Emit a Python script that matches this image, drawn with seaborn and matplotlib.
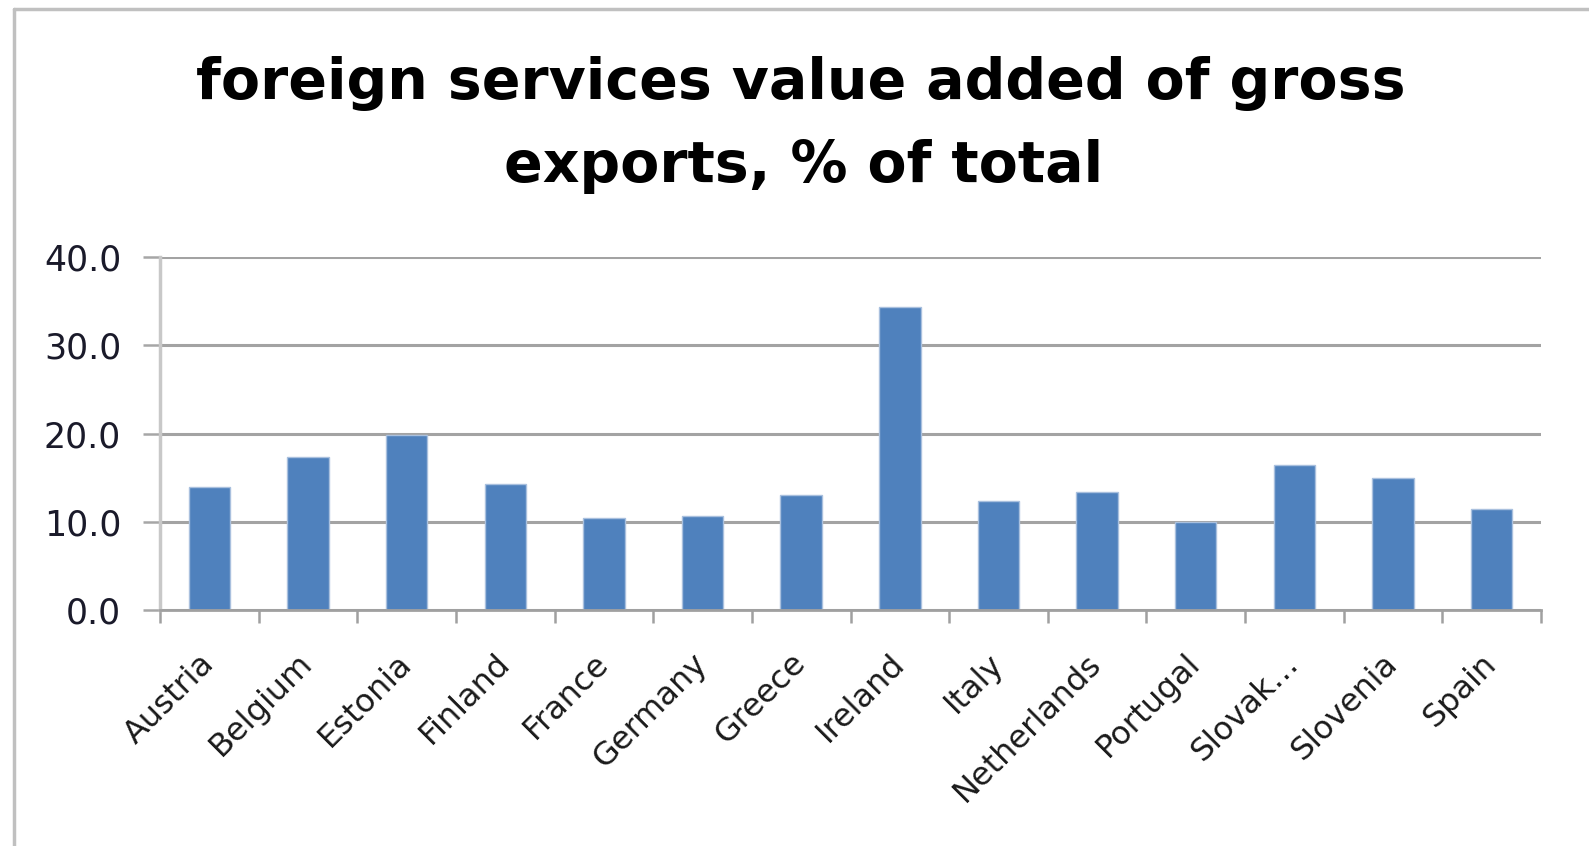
import matplotlib
matplotlib.use("Agg")
import matplotlib.pyplot as plt
from matplotlib.lines import Line2D
import numpy as np
import pandas as pd
import seaborn as sns

# ---- data ----
countries = ["Austria", "Belgium", "Estonia", "Finland", "France", "Germany", "Greece",
             "Ireland", "Italy", "Netherlands", "Portugal", "Slovak…", "Slovenia", "Spain"]
values = [14.0, 17.4, 19.8, 14.3, 10.4, 10.7, 13.0, 34.4, 12.4, 13.4, 10.0, 16.4, 15.0, 11.4]
yticks = [0, 10, 20, 30, 40]
ytick_labels = ["0.0", "10.0", "20.0", "30.0", "40.0"]
title_line1 = "foreign services value added of gross"
title_line2 = "exports, % of total"

sns.set_theme(style="white")
plt.rcParams["font.family"] = ["DejaVu Sans"]

W, H = 1589, 846
fig = plt.figure(figsize=(W / 100, H / 100), dpi=100)
fig.patch.set_facecolor("white")

left, right, top, bottom = 160, 1541, 257.3, 610
ax = fig.add_axes([left / W, 1 - bottom / H, (right - left) / W, (bottom - top) / H])

df = pd.DataFrame({"country": countries, "value": values})
sns.barplot(data=df, x="country", y="value", color="#4F81BD", saturation=1,
            width=0.42, edgecolor="#a9c0de", linewidth=1.0, ax=ax)

ax.set_xlim(-0.5, len(countries) - 0.5)
ax.set_ylim(0, 40)
ax.set_yticks(yticks)
ax.set_yticklabels(ytick_labels)
ax.set_xlabel("")
ax.set_ylabel("")

ax.yaxis.grid(True, color="#a3a3a3", linewidth=2.2)
ax.xaxis.grid(False)
ax.set_axisbelow(True)

for s in ["top", "right"]:
    ax.spines[s].set_visible(False)
ax.spines["left"].set_color("#c8c8c8")
ax.spines["left"].set_linewidth(2.5)
ax.spines["bottom"].set_color("#a0a0a0")
ax.spines["bottom"].set_linewidth(2.0)

ax.tick_params(axis="y", which="major", left=True, length=12, width=1.8,
               color="#a6a6a6", pad=16, labelsize=25, labelcolor="#1a1a2a", direction="out")

ax.set_xticks(np.arange(-0.5, len(countries), 1.0), minor=True)
ax.tick_params(axis="x", which="minor", bottom=True, length=9, width=1.8,
               color="#a0a0a0", direction="out")
ax.tick_params(axis="x", which="major", bottom=True, length=0, pad=35,
               labelsize=23, labelcolor="#1a1a1a")
for lbl in ax.get_xticklabels():
    lbl.set_rotation(45)
    lbl.set_ha("right")
    lbl.set_va("center")
    lbl.set_rotation_mode("anchor")

# title
fig.text(801 / W, 1 - 99 / H, title_line1, ha="center", va="baseline",
         fontsize=41, fontweight="bold", color="black")
fig.text(804 / W, 1 - 182 / H, title_line2, ha="center", va="baseline",
         fontsize=41, fontweight="bold", color="black")

# chart-area border (left and top visible)
fig.add_artist(Line2D([14 / W, 14 / W], [0, 1 - 9 / H], transform=fig.transFigure,
                      color="#c0c0c0", linewidth=2.5))
fig.add_artist(Line2D([14 / W, 1], [1 - 9 / H, 1 - 9 / H], transform=fig.transFigure,
                      color="#c0c0c0", linewidth=2.5))

fig.savefig("out.png", dpi=100)
